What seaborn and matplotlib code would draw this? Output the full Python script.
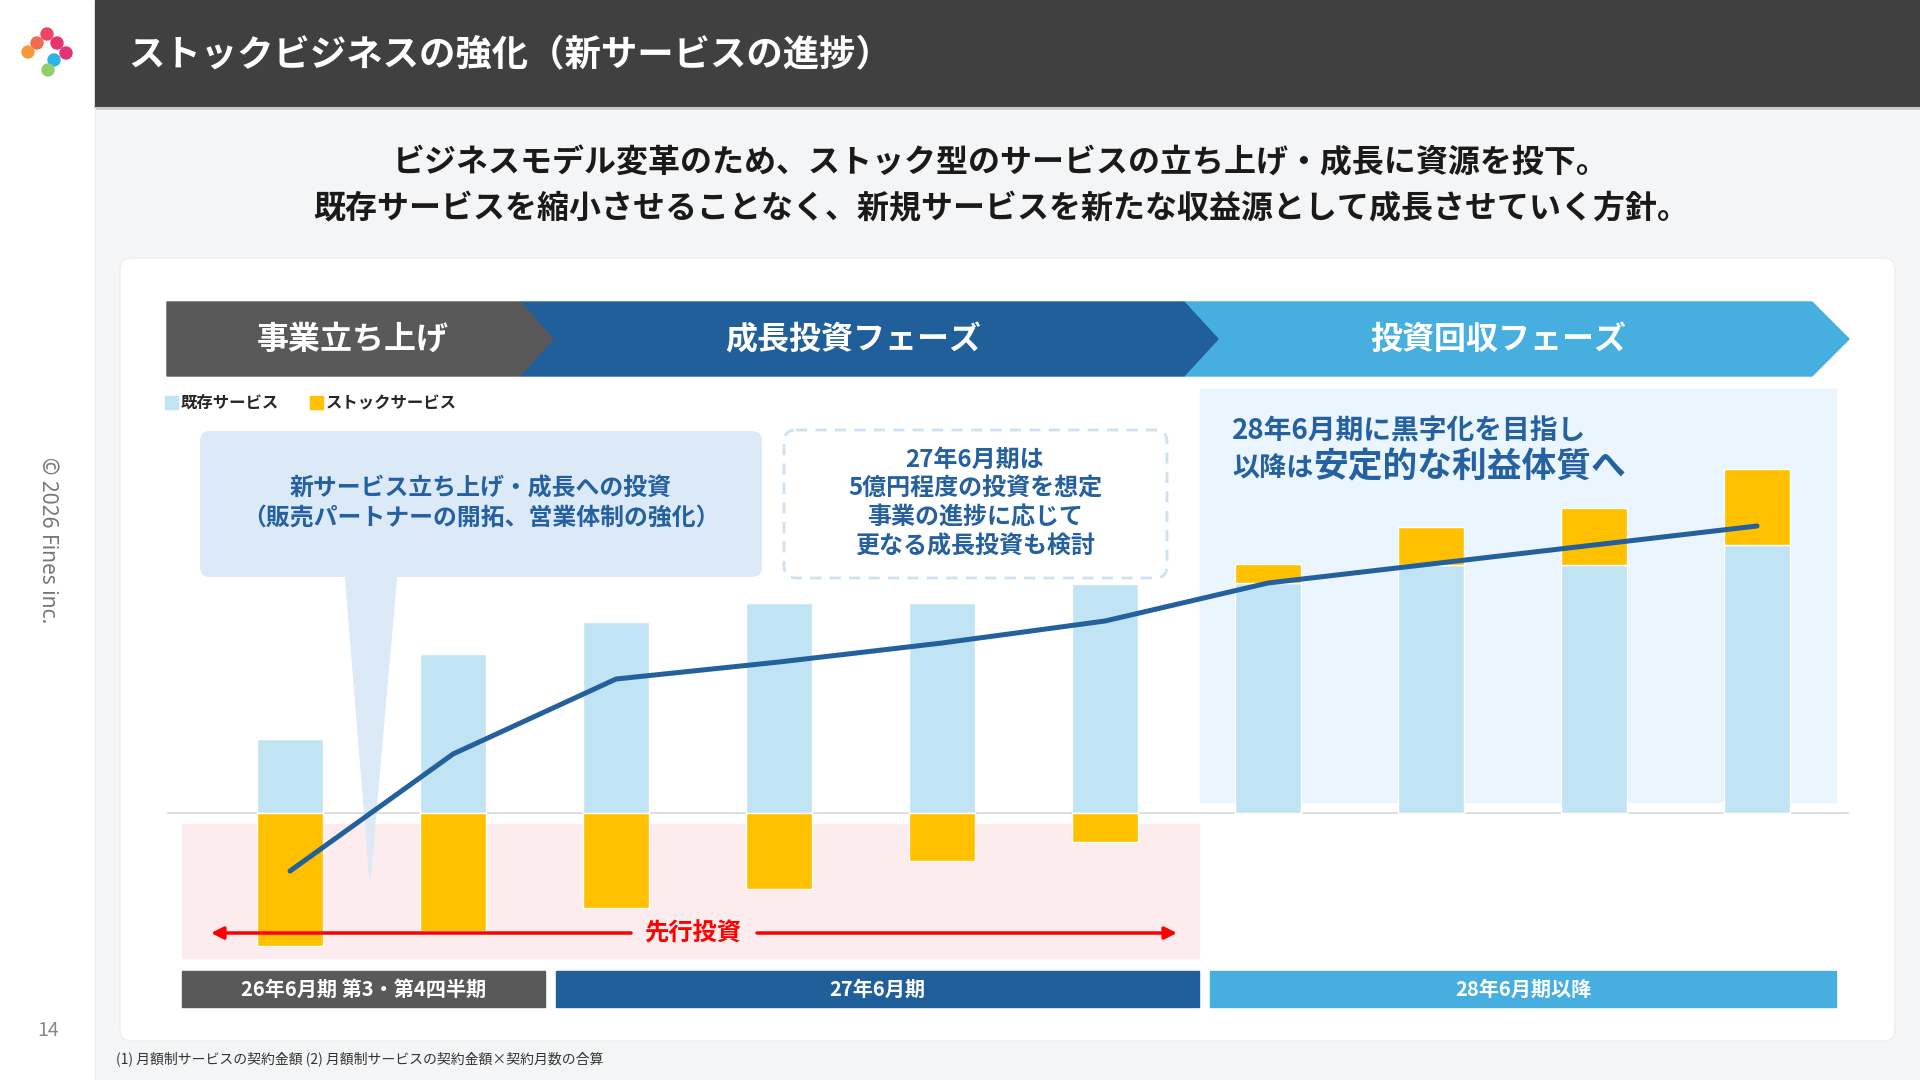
import numpy as np
import matplotlib
matplotlib.use("Agg")
import matplotlib.pyplot as plt
from matplotlib.patches import FancyBboxPatch, Polygon, Rectangle, Patch, Circle
import seaborn as sns

# values (arbitrary units, baseline = 0)
quarters = ["26/6期 3Q", "26/6期 4Q", "27/6期 1Q", "27/6期 2Q", "27/6期 3Q",
            "27/6期 4Q", "28/6期 1Q", "28/6期 2Q", "28/6期 3Q", "28/6期 4Q"]
existing = [7.4, 15.9, 19.1, 21.0, 21.0, 22.9, 23.0, 24.8, 24.8, 26.8]
stock = [-13.3, -11.8, -9.5, -7.6, -4.8, -2.9, 1.9, 3.8, 5.7, 7.6]
total = [-5.8, 5.9, 13.4, 15.1, 17.0, 19.2, 23.0, 24.9, 26.8, 28.7]

phases = ["事業立ち上げ", "成長投資フェーズ", "投資回収フェーズ"]
periods = ["26年6月期 第3・第4四半期", "27年6月期", "28年6月期以降"]
series_names = ["既存サービス", "ストックサービス"]

title = "ストックビジネスの強化（新サービスの進捗）"
subtitle = ["ビジネスモデル変革のため、ストック型のサービスの立ち上げ・成長に資源を投下。",
            "既存サービスを縮小させることなく、新規サービスを新たな収益源として成長させていく方針。"]
callout = ["新サービス立ち上げ・成長への投資", "（販売パートナーの開拓、営業体制の強化）"]
note = ["27年6月期は", "5億円程度の投資を想定", "事業の進捗に応じて", "更なる成長投資も検討"]
footnote = "(1) 月額制サービスの契約金額 (2) 月額制サービスの契約金額×契約月数の合算"

BLUE = "#c1e4f4"
YELLOW = "#ffc000"
LINE = "#23609c"
GRAY = "#595959"
NAVY = "#215f9a"
SKY = "#47afe0"
TXT = "#2560a0"

sns.set_theme(style="white")
plt.rcParams["font.family"] = ["Noto Sans CJK JP", "DejaVu Sans"]

fig = plt.figure(figsize=(19.2, 10.8), dpi=100)

# background layer in pixel coordinates
bg = fig.add_axes([0, 0, 1, 1], zorder=0)
bg.set_xlim(0, 1920)
bg.set_ylim(1080, 0)
bg.axis("off")
bg.add_patch(Rectangle((0, 0), 1920, 1080, color="white"))
bg.add_patch(Rectangle((95, 108), 1825, 972, color="#f4f5f7"))
bg.add_patch(Rectangle((95, 0), 1825, 108, color="#404040"))
bg.plot([95, 1920], [108, 108], color="#c8c8c8", lw=1.5)
bg.plot([95, 95], [108, 1080], color="#ececec", lw=1)

# logo
for cx, cy, c in [(47, 34, "#ef4565"), (37, 43, "#f26b4f"), (57, 43, "#e8336d"),
                  (28, 52, "#f59a3c"), (66, 53, "#e2337a"), (54, 60, "#2eb5e5"),
                  (48, 70, "#8fd06a")]:
    bg.add_patch(Circle((cx, cy), 6, color=c))

bg.text(128, 55, title, color="white", fontsize=26.2, fontweight="bold", va="center")
for i, line in enumerate(subtitle):
    bg.text(1001, 163 + i * 46, line, color="#1a1a1a", fontsize=23,
            fontweight="bold", ha="center", va="center")

# white card
bg.add_patch(FancyBboxPatch((120, 258), 1775, 783, boxstyle="round,pad=0,rounding_size=12",
                            fc="white", ec="#eeeeee", lw=1))

# phase chevrons
bg.add_patch(Polygon([(1184, 302), (1812, 302), (1849, 339), (1812, 376), (1184, 376)], color=SKY))
bg.add_patch(Polygon([(520, 302), (1184, 302), (1218, 339), (1184, 376), (520, 376)], color=NAVY))
bg.add_patch(Polygon([(167, 302), (520, 302), (553, 339), (520, 376), (167, 376)], color=GRAY))
for cx, lab in zip([353, 853, 1498], phases):
    bg.text(cx, 340, lab, color="white", fontsize=23, fontweight="bold", ha="center", va="center")

# shaded zones
bg.add_patch(Rectangle((182, 824), 1017, 134, color="#fdeced"))
bg.add_patch(Rectangle((1200, 389), 636, 413, color="#eaf5fd"))

# callout with tail
bg.add_patch(Polygon([(345, 570), (397, 570), (370, 879)], color="#dce9f6"))
bg.add_patch(FancyBboxPatch((200, 431), 562, 146, boxstyle="round,pad=0,rounding_size=10",
                            fc="#dce9f6", ec="none"))
for i, line in enumerate(callout):
    bg.text(481, 489 + i * 29, line, color=TXT, fontsize=17.2, fontweight="bold",
            ha="center", va="center")

# dashed note
bg.add_patch(FancyBboxPatch((784, 430), 383, 148, boxstyle="round,pad=0,rounding_size=12",
                            fc="white", ec="#cfe0f0", lw=2, ls=(0, (4, 3))))
for i, line in enumerate(note):
    bg.text(975, 460 + i * 29, line, color=TXT, fontsize=17.3, fontweight="bold",
            ha="center", va="center")

# right message
bg.text(1232, 431, "28年6月期に黒字化を目指し", color=TXT, fontsize=20,
        fontweight="bold", va="center")
bg.text(1232, 477, "以降は", color=TXT, fontsize=19.5, fontweight="bold", va="baseline")
bg.text(1313, 477, "安定的な利益体質へ", color=TXT, fontsize=25, fontweight="bold", va="baseline")

# period bands
for (x0, w, c), lab in zip([(182, 363, GRAY), (556, 643, NAVY), (1210, 626, SKY)], periods):
    bg.add_patch(Rectangle((x0, 971), w, 36, color=c))
    bg.text(x0 + w / 2, 989, lab, color="white", fontsize=14.5, fontweight="bold",
            ha="center", va="center")

bg.text(116, 1059, footnote, color="#333333", fontsize=10, va="center")
bg.text(48, 1030, "14", color="#888888", fontsize=14, ha="center", va="center")
bg.text(47, 540, "© 2026 Fines inc.", color="#777777", fontsize=15, rotation=-90,
        ha="center", va="center", family=["Noto Sans", "DejaVu Sans"])

# chart
ax = fig.add_axes([167 / 1920, 1 - 960 / 1080, (1849 - 167) / 1920, (960 - 380) / 1080], zorder=1)
ax.patch.set_visible(False)
pos = np.arange(len(quarters))
sns.barplot(x=quarters, y=existing, color=BLUE, saturation=1, width=0.4, ax=ax, zorder=2)
stock_arr = np.array(stock)
bottoms = np.where(stock_arr > 0, np.array(existing), 0)
ax.bar(pos, stock_arr, bottom=bottoms, width=0.4, color=YELLOW, zorder=2)
sns.lineplot(x=pos, y=total, color=LINE, lw=3.6, ax=ax, zorder=4, sort=False,
             solid_capstyle="round")
ax.axhline(0, color="#d9d9d9", lw=1.2, zorder=1)
ax.set_xlim(-0.755, 9.564)
ax.set_ylim(-14.7, 43.3)
ax.axis("off")

fig.legend(handles=[Patch(color=BLUE, label=series_names[0]), Patch(color=YELLOW, label=series_names[1])],
           loc="center left", bbox_to_anchor=(165 / 1920, 1 - 403 / 1080), ncol=2, frameon=False,
           handlelength=0.8, handleheight=0.8, handletextpad=0.15, columnspacing=1.9,
           borderaxespad=0, borderpad=0, prop={"weight": "bold", "size": 11.8})

# top layer: upfront investment arrow
top = fig.add_axes([0, 0, 1, 1], zorder=3)
top.set_xlim(0, 1920)
top.set_ylim(1080, 0)
top.axis("off")
top.patch.set_visible(False)
arrow = dict(arrowstyle="-|>", color="#ff0000", lw=2.5, mutation_scale=18, shrinkA=0, shrinkB=0)
top.annotate("", xy=(211, 933), xytext=(631, 933), arrowprops=arrow)
top.annotate("", xy=(1177, 933), xytext=(757, 933), arrowprops=arrow)
top.text(693, 933, "先行投資", color="#ff0000", fontsize=17.5, fontweight="bold",
         ha="center", va="center")

fig.savefig("out.png", dpi=100)
